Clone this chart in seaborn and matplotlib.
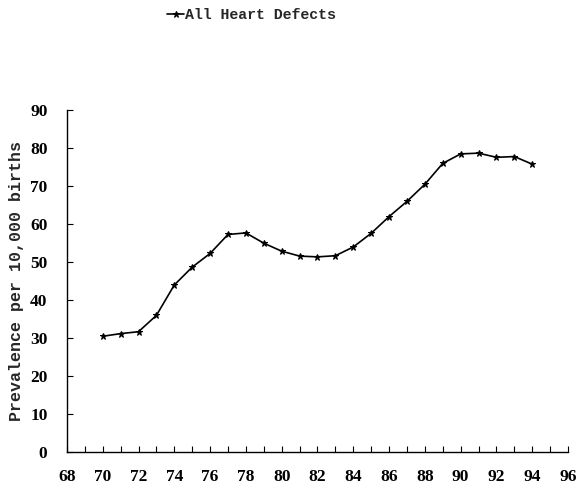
import matplotlib
matplotlib.use("Agg")
import matplotlib.pyplot as plt
import seaborn as sns
import pandas as pd
from matplotlib.ticker import MultipleLocator

# Datos
anios = [70, 71, 72, 73, 74, 75, 76, 77, 78, 79, 80, 81, 82, 83, 84, 85, 86, 87, 88, 89, 90, 91, 92, 93, 94]
prevalencia = [30.5, 31.2, 31.7, 36.0, 44.0, 48.7, 52.3, 57.3, 57.7, 55.0, 52.9, 51.6, 51.4, 51.7, 54.0,
               57.6, 62.0, 66.0, 70.5, 76.0, 78.5, 78.7, 77.6, 77.8, 75.8]
serie = "All Heart Defects"

df = pd.DataFrame({"anio": anios, "prev": prevalencia})

sns.set_style("white")
plt.rcParams['font.family'] = ['Liberation Serif', 'DejaVu Serif']

fig = plt.figure(figsize=(5.82, 4.92), dpi=100)
ax = fig.add_axes([0.115, 0.081, 0.861, 0.695])

sns.lineplot(data=df, x="anio", y="prev", ax=ax, color="black", linewidth=1.2,
             marker="*", markersize=5, markeredgecolor="black", label=serie)

ax.set_xlim(68, 96)
ax.set_ylim(0, 90)
ax.xaxis.set_major_locator(MultipleLocator(2))
ax.xaxis.set_minor_locator(MultipleLocator(1))
ax.yaxis.set_major_locator(MultipleLocator(10))
ax.tick_params(axis="both", which="both", direction="in", length=4, width=0.8,
               labelsize=12.5, colors="black")
ax.tick_params(axis="x", which="both", bottom=True, pad=12)
ax.tick_params(axis="y", left=True, pad=14)
for lbl in ax.get_xticklabels() + ax.get_yticklabels():
    lbl.set_fontweight("bold")
for s in ["top", "right"]:
    ax.spines[s].set_visible(False)
for s in ["left", "bottom"]:
    ax.spines[s].set_color("black")
    ax.spines[s].set_linewidth(1)

ax.set_xlabel("")
ax.set_ylabel("Prevalence per 10,000 births", fontsize=12, labelpad=4,
              family="Liberation Mono", fontweight="bold")

ax.legend_.remove()
h, l = ax.get_legend_handles_labels()
fig.legend(h, l, loc="center left", bbox_to_anchor=(0.275, 0.969), frameon=False,
           prop={"family": "Liberation Mono", "size": 10.7, "weight": "bold"},
           handlelength=1.1, handletextpad=0.1, borderpad=0)

fig.savefig("out.png", dpi=100)
